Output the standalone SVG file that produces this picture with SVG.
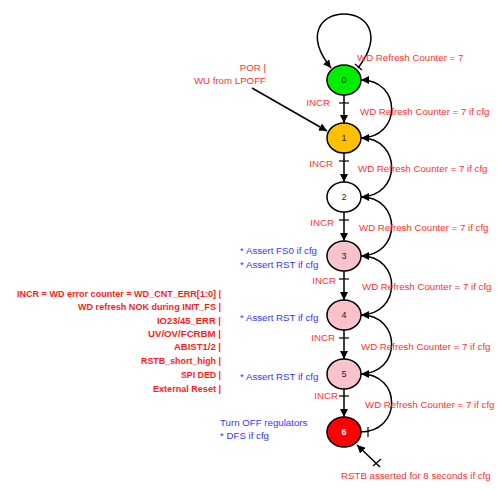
<svg xmlns="http://www.w3.org/2000/svg" width="497" height="490" viewBox="0 0 497 490">
<style>
.bg{fill:#ffffff}
.node{stroke:#000;stroke-width:1.5}
.nl{font-family:"Liberation Sans",Arial,sans-serif;font-size:9px;fill:#222;text-anchor:middle}
.edge{fill:none;stroke:#000;stroke-width:1.5}
.tick{stroke:#000;stroke-width:1.2}
.rt{font-family:"Liberation Sans",Arial,sans-serif;font-size:9.7px;fill:#ff3030}
.bt{font-family:"Liberation Sans",Arial,sans-serif;font-size:9.7px;fill:#3535ff}
.lb{font-family:"Liberation Sans",Arial,sans-serif;font-size:9.5px;font-weight:bold;fill:#ff1a1a;text-anchor:end}
.end{text-anchor:end}
</style>
<defs>
<marker id="ah" viewBox="0 0 10 10" refX="10" refY="5" markerWidth="8" markerHeight="8" markerUnits="userSpaceOnUse" orient="auto">
<path d="M0,0 L10,5 L0,10 z" fill="#000"/>
</marker>
</defs>
<rect class="bg" x="0" y="0" width="497" height="490"/>

<g id="connectors">
<!-- self loop on 0 -->
<path class="edge" d="M358,68 C384,34 366,14 344,14 C322,14 304,34 331,68" marker-end="url(#ah)"/>
<line class="tick" x1="355" y1="64" x2="362" y2="70"/>
<!-- POR arrow -->
<line class="edge" x1="252" y1="88" x2="327" y2="131" marker-end="url(#ah)"/>
<!-- forward INCR arrows -->
<line class="edge" x1="344" y1="95" x2="344" y2="123" marker-end="url(#ah)"/>
<line class="tick" x1="339" y1="103" x2="349" y2="103"/>
<line class="edge" x1="344" y1="153" x2="344" y2="182" marker-end="url(#ah)"/>
<line class="tick" x1="339" y1="161" x2="349" y2="161"/>
<line class="edge" x1="344" y1="212" x2="344" y2="241" marker-end="url(#ah)"/>
<line class="tick" x1="339" y1="220" x2="349" y2="220"/>
<line class="edge" x1="344" y1="271" x2="344" y2="300" marker-end="url(#ah)"/>
<line class="tick" x1="339" y1="279" x2="349" y2="279"/>
<line class="edge" x1="344" y1="330" x2="344" y2="359" marker-end="url(#ah)"/>
<line class="tick" x1="339" y1="338" x2="349" y2="338"/>
<line class="edge" x1="344" y1="389" x2="344" y2="417" marker-end="url(#ah)"/>
<line class="tick" x1="339" y1="396" x2="349" y2="396"/>
<!-- back arcs -->
<path class="edge" d="M360,138 C402,138 402,80 361,80" marker-end="url(#ah)"/>
<path class="edge" d="M360,197 C402,197 402,138 361,138" marker-end="url(#ah)"/>
<path class="edge" d="M360,256 C402,256 402,197 361,197" marker-end="url(#ah)"/>
<path class="edge" d="M360,315 C402,315 402,256 361,256" marker-end="url(#ah)"/>
<path class="edge" d="M360,374 C402,374 402,315 361,315" marker-end="url(#ah)"/>
<path class="edge" d="M360,432 C402,432 402,374 361,374" marker-end="url(#ah)"/>
<line class="tick" x1="368" y1="427" x2="368" y2="437"/>
<!-- RSTB arrow -->
<line class="edge" x1="380" y1="467" x2="357" y2="445" marker-end="url(#ah)"/>
<line class="tick" x1="373" y1="466" x2="381" y2="459"/>
</g>

<g id="n0"><ellipse class="node" cx="344" cy="80" rx="17" ry="15" fill="#00ee00"/><text class="nl" x="344" y="83">0</text></g>
<g id="n1"><ellipse class="node" cx="344" cy="138" rx="17" ry="15" fill="#ffc000"/><text class="nl" x="344" y="141">1</text></g>
<g id="n2"><ellipse class="node" cx="344" cy="197" rx="17" ry="15" fill="#ffffff"/><text class="nl" x="344" y="200">2</text></g>
<g id="n3"><ellipse class="node" cx="344" cy="256" rx="17" ry="15" fill="#fac3cc"/><text class="nl" x="344" y="259">3</text></g>
<g id="n4"><ellipse class="node" cx="344" cy="315" rx="17" ry="15" fill="#fac3cc"/><text class="nl" x="344" y="318">4</text></g>
<g id="n5"><ellipse class="node" cx="344" cy="374" rx="17" ry="15" fill="#fac3cc"/><text class="nl" x="344" y="377">5</text></g>
<g id="n6"><ellipse class="node" cx="344" cy="432" rx="17" ry="15" fill="#ff0000"/><text class="nl" x="344" y="435" fill="#ffffff" style="fill:#fff;font-weight:bold">6</text></g>

<g id="labels">
<text class="rt end" x="266" y="71">POR |</text>
<text class="rt end" x="266" y="83.5">WU from LPOFF</text>
<text class="rt" x="357" y="61">WD Refresh Counter = 7</text>
<text class="rt" x="360" y="114.5">WD Refresh Counter = 7 if cfg</text>
<text class="rt" x="358" y="171.5">WD Refresh Counter = 7 if cfg</text>
<text class="rt" x="359" y="231">WD Refresh Counter = 7 if cfg</text>
<text class="rt" x="362" y="290">WD Refresh Counter = 7 if cfg</text>
<text class="rt" x="361" y="350">WD Refresh Counter = 7 if cfg</text>
<text class="rt" x="365" y="407.5">WD Refresh Counter = 7 if cfg</text>
<text class="rt end" x="330" y="105.5">INCR</text>
<text class="rt end" x="333" y="166.5">INCR</text>
<text class="rt end" x="334" y="225.5">INCR</text>
<text class="rt end" x="336" y="283.5">INCR</text>
<text class="rt end" x="335" y="340.5">INCR</text>
<text class="rt end" x="338" y="398.5">INCR</text>
<text class="bt" x="240" y="254">* Assert FS0 if cfg</text>
<text class="bt" x="240" y="267.5">* Assert RST if cfg</text>
<text class="bt" x="240" y="321">* Assert RST if cfg</text>
<text class="bt" x="240" y="380">* Assert RST if cfg</text>
<text class="bt" x="220" y="426">Turn OFF regulators</text>
<text class="bt" x="220" y="438.5">* DFS if cfg</text>
<text class="rt" x="341" y="478.5">RSTB asserted for 8 seconds if cfg</text>
<text class="lb" x="221" y="297" textLength="204" lengthAdjust="spacingAndGlyphs">INCR = WD error counter = WD_CNT_ERR[1:0] |</text>
<text class="lb" x="221" y="310" textLength="143" lengthAdjust="spacingAndGlyphs">WD refresh NOK during INIT_FS |</text>
<text class="lb" x="221" y="323.5" textLength="64" lengthAdjust="spacingAndGlyphs">IO23/45_ERR |</text>
<text class="lb" x="221" y="336.5" textLength="73" lengthAdjust="spacingAndGlyphs">UV/OV/FCRBM |</text>
<text class="lb" x="221" y="350" textLength="47" lengthAdjust="spacingAndGlyphs">ABIST1/2 |</text>
<text class="lb" x="221" y="363.5" textLength="80" lengthAdjust="spacingAndGlyphs">RSTB_short_high |</text>
<text class="lb" x="221" y="377.5" textLength="40" lengthAdjust="spacingAndGlyphs">SPI DED |</text>
<text class="lb" x="221" y="391.5" textLength="68" lengthAdjust="spacingAndGlyphs">External Reset |</text>
</g>
</svg>
